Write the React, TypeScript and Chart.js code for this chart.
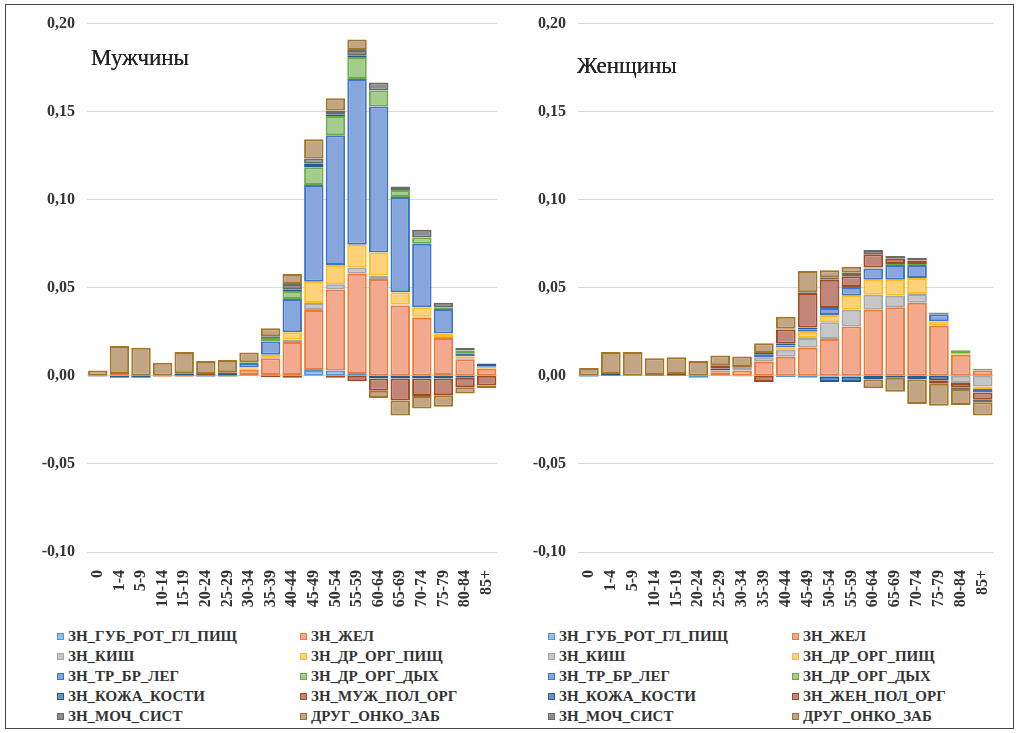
import React, { useEffect, useRef } from 'react';
import { Chart, registerables } from 'chart.js';
Chart.register(...registerables);

const AGE_GROUPS = ['0','1-4','5-9','10-14','15-19','20-24','25-29','30-34','35-39','40-44','45-49','50-54','55-59','60-64','65-69','70-74','75-79','80-84','85+'];
const Y_TICKS_MIN = -0.1;
const Y_TICKS_MAX = 0.2;
const Y_STEP = 0.05;

const TITLE_MEN = 'Мужчины';
const TITLE_WOMEN = 'Женщины';

const NAMES_MEN = ['ЗН_ГУБ_РОТ_ГЛ_ПИЩ','ЗН_ЖЕЛ','ЗН_КИШ','ЗН_ДР_ОРГ_ПИЩ','ЗН_ТР_БР_ЛЕГ','ЗН_ДР_ОРГ_ДЫХ','ЗН_КОЖА_КОСТИ','ЗН_МУЖ_ПОЛ_ОРГ','ЗН_МОЧ_СИСТ','ДРУГ_ОНКО_ЗАБ'];
const NAMES_WOMEN = ['ЗН_ГУБ_РОТ_ГЛ_ПИЩ','ЗН_ЖЕЛ','ЗН_КИШ','ЗН_ДР_ОРГ_ПИЩ','ЗН_ТР_БР_ЛЕГ','ЗН_ДР_ОРГ_ДЫХ','ЗН_КОЖА_КОСТИ','ЗН_ЖЕН_ПОЛ_ОРГ','ЗН_МОЧ_СИСТ','ДРУГ_ОНКО_ЗАБ'];

// Men
const M_LIP   = [0,0,0,0,0,-0.0005,0,0.0005,0.0005,0.0005,0.0034,0.003,0.001,0,0,0,0.0005,0,0];
const M_STOM  = [0,0.001,0,-0.0005,-0.0005,0,0,0.003,0.0095,0.0187,0.034,0.046,0.057,0.055,0.040,0.033,0.021,0.0095,0.004];
const M_COL   = [-0.0005,0,0,0,0,0,0,0.0005,0.0005,0.0015,0.004,0.003,0.0035,0.002,0.0005,0.0005,0.0005,0.0005,0];
const M_DIG   = [0,0,0,0,0,0,0,0.0008,0.0015,0.004,0.012,0.011,0.013,0.013,0.007,0.0055,0.002,0.0012,0.001];
const M_LUNG  = [0,0,0,0,0,0,0,0.0025,0.0075,0.019,0.055,0.0736,0.094,0.083,0.054,0.036,0.014,0.0017,0.0005];
const M_RESP  = [0,0,0,0,0,0,-0.0005,0.0004,0.002,0.0045,0.010,0.011,0.0125,0.009,0.004,0.0035,0.001,0.0015,0];
const M_SKIN  = [0,-0.001,-0.001,0,0.0015,0,0.001,0,0,0.001,0.002,0.001,0.001,-0.0015,-0.0015,-0.0015,-0.0015,-0.001,0.0015];
const M_GEN   = [0,0,0,0,0,0.001,0.001,0,-0.0008,-0.001,0,-0.001,-0.003,-0.007,-0.0125,-0.010,-0.0095,-0.0055,-0.0055];
const M_URIN  = [0,0,0,0,0,0,0,0,0.001,0.003,0.003,0.002,0.003,0.0045,0.002,0.0045,0.0025,0.0015,0];
const M_OTHER = [0.003,0.016,0.016,0.0075,0.012,0.0075,0.007,0.0055,0.0045,0.0057,0.011,0.007,0.006,-0.004,-0.0085,-0.007,-0.0065,-0.0035,-0.0015];

// Women
const W_LIP   = [-0.0005,0,0,0,0,-0.001,0,0,0,-0.0007,-0.001,-0.0005,-0.0005,0,0,0,0,0,0];
const W_STOM  = [0,0,0,0,0,0,0.002,0.003,0.008,0.0108,0.016,0.021,0.028,0.0375,0.039,0.0415,0.0285,0.012,0.003];
const W_COL   = [0,0,0,0,0,0,0.001,0.002,0.0025,0.004,0.0055,0.0095,0.0095,0.0085,0.0065,0.005,0,-0.004,-0.006];
const W_DIG   = [0,0,0,0,0,0,0,0,0,0.0015,0.0035,0.004,0.008,0.0085,0.009,0.009,0.0025,0.001,-0.0015];
const W_LUNG  = [0,0,0,0,0,0,0,0,0.0015,0.001,0.0015,0.004,0.005,0.0065,0.0085,0.0075,0.004,0,-0.002];
const W_RESP  = [0,0,0,0,0,0,0,-0.0003,0,0,0,0,0,0.0005,0.0005,0.0005,0.001,0.0015,0.001];
const W_SKIN  = [0,0.001,0,0,0,0,0.001,0,0.001,0.001,0.001,-0.003,-0.003,-0.002,-0.001,-0.002,-0.0025,0,0];
const W_GEN   = [0,0,0,0.0005,0.001,0,0.002,0,-0.0035,0.008,0.0195,0.016,0.006,0.0075,0.003,0.002,-0.002,-0.0025,-0.004];
const W_URIN  = [0,0,0,0,0,0,0,0,0,0.0005,0.0005,0.0015,0.002,0.0025,0.0015,0.0015,0,-0.001,-0.0015];
const W_OTHER = [0.0045,0.0125,0.0135,0.0095,0.0095,0.0085,0.0055,0.006,0.0055,0.0068,0.012,0.004,0.0035,-0.005,-0.008,-0.014,-0.0125,-0.009,-0.0075];

const MEN_SERIES = [M_LIP, M_STOM, M_COL, M_DIG, M_LUNG, M_RESP, M_SKIN, M_GEN, M_URIN, M_OTHER];
const WOMEN_SERIES = [W_LIP, W_STOM, W_COL, W_DIG, W_LUNG, W_RESP, W_SKIN, W_GEN, W_URIN, W_OTHER];

const BORDERS = ['#4F95D8','#EE7A3A','#A5A5A5','#FFBE1A','#3E74C8','#6DAA45','#235C92','#A04A20','#6A6A6A','#A27528'];
const FILLS = ['#93BEE8','#F3A98D','#C4C6C8','#FFD27A','#86A6DC','#A4CD8C','#6C93BE','#C28678','#8E8E8E','#C2A585'];

const FONT = "'Liberation Serif', 'Times New Roman', serif";

function fmt(v: number) {
  return v.toFixed(2).replace('.', ',');
}

function StackChart({ series, names, left, width, yWidth }: any) {
  const ref = useRef<HTMLCanvasElement>(null);
  useEffect(() => {
    if (!ref.current) return;
    const chart = new Chart(ref.current, {
      type: 'bar',
      data: {
        labels: AGE_GROUPS,
        datasets: series.map((d: number[], i: number) => ({
          label: names[i],
          data: d,
          backgroundColor: FILLS[i],
          borderColor: BORDERS[i],
          borderWidth: 2,
          borderSkipped: false,
          categoryPercentage: 0.9,
          barPercentage: 1,
        })),
      },
      options: {
        animation: false,
        responsive: false,
        maintainAspectRatio: false,
        layout: { padding: { top: 14, right: 6, bottom: 0, left: 0 } },
        plugins: { legend: { display: false }, tooltip: { enabled: false } },
        scales: {
          x: {
            stacked: true,
            grid: { display: false },
            border: { display: false },
            ticks: {
              autoSkip: false,
              minRotation: 90,
              maxRotation: 90,
              padding: 10,
              color: '#333',
              font: { family: FONT, size: 16, weight: 'bold' },
            },
            afterFit: (s: any) => { s.height = 68; },
          },
          y: {
            stacked: true,
            min: Y_TICKS_MIN,
            max: Y_TICKS_MAX,
            grid: { color: '#d9d9d9', drawTicks: false, lineWidth: 1 },
            border: { display: false },
            ticks: {
              stepSize: Y_STEP,
              padding: 12,
              color: '#333',
              font: { family: FONT, size: 16, weight: 'bold' },
              callback: (v: any) => fmt(Number(v)),
            },
            afterFit: (s: any) => { s.width = yWidth; },
          },
        },
      },
    });
    return () => chart.destroy();
  }, []);
  return (
    <canvas ref={ref} width={width} height={618}
      style={{ position: 'absolute', left, top: 2, width, height: 618 }} />
  );
}

function Legend({ names, left, col2 }: any) {
  return (
    <>
      {names.map((n: string, i: number) => {
        const row = Math.floor(i / 2);
        const col = i % 2;
        return (
          <div key={i} style={{
            position: 'absolute', left: col === 0 ? left : left + col2, top: 627 + row * 20,
            height: 18, display: 'flex', alignItems: 'center', whiteSpace: 'nowrap',
            fontFamily: FONT, fontWeight: 'bold', fontSize: 15, color: '#333',
          }}>
            <span style={{ display: 'inline-block', width: 5, height: 5, background: FILLS[i], border: `1.5px solid ${BORDERS[i]}`, marginRight: 4 }} />
            {n}
          </div>
        );
      })}
    </>
  );
}

export default function App() {
  return (
    <div style={{ position: 'fixed', left: 0, top: 0, width: 1018, height: 733, background: '#fff', overflow: 'hidden' }}>
      <div style={{ position: 'absolute', left: 5, top: 4, width: 1007, height: 723, border: '1px solid #444' }} />
      <StackChart series={MEN_SERIES} names={NAMES_MEN} left={10} width={506} yWidth={77} />
      <StackChart series={WOMEN_SERIES} names={NAMES_WOMEN} left={516} width={496} yWidth={62} />
      <div style={{ position: 'absolute', left: 91, top: 45, fontFamily: FONT, fontSize: 23, color: '#222', textShadow: '0 0 0.4px #222' }}>{TITLE_MEN}</div>
      <div style={{ position: 'absolute', left: 577, top: 53, fontFamily: FONT, fontSize: 23, color: '#222', textShadow: '0 0 0.4px #222' }}>{TITLE_WOMEN}</div>
      <Legend names={NAMES_MEN} left={57} col2={243} />
      <Legend names={NAMES_WOMEN} left={548} col2={244} />
    </div>
  );
}
